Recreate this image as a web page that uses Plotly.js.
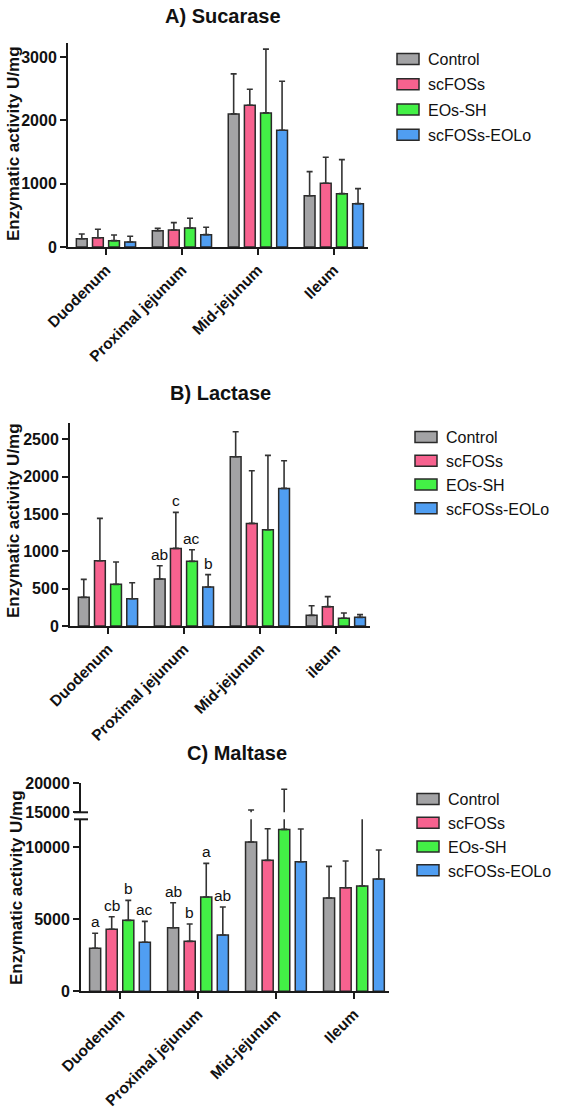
<!DOCTYPE html>
<html><head><meta charset="utf-8">
<script src="https://cdn.plot.ly/plotly-3.0.1.min.js"></script>
<style>
html,body{margin:0;padding:0;background:#fff}
#chart{width:567px;height:1113px}
</style>
</head><body><div id="chart"></div>
<script>
// ---------- data ----------
const segments  = ['Duodenum', 'Proximal jejunum', 'Mid-jejunum', 'Ileum'];
const segmentsB = ['Duodenum', 'Proximal jejunum', 'Mid-jejunum', 'ileum'];
const groups = ['Control', 'scFOSs', 'EOs-SH', 'scFOSs-EOLo'];

// A) Sucarase (mean, SD)
const sucControl    = [131, 258, 2101, 810];
const sucScFOSs     = [147, 268, 2238, 1006];
const sucEOsSH      = [100, 300, 2117, 842];
const sucScFOSsEOLo = [79, 195, 1843, 684];
const sucControlSD    = [74, 37, 632, 380];
const sucScFOSsSD     = [133, 116, 253, 411];
const sucEOsSHSD      = [90, 153, 1006, 537];
const sucScFOSsEOLoSD = [90, 116, 774, 237];

// B) Lactase
const lacControl    = [384, 629, 2268, 143];
const lacScFOSs     = [875, 1040, 1375, 259];
const lacEOsSH      = [558, 866, 1290, 103];
const lacScFOSsEOLo = [366, 522, 1844, 116];
const lacControlSD    = [241, 179, 335, 129];
const lacScFOSsSD     = [567, 482, 705, 134];
const lacEOsSHSD      = [299, 156, 996, 71];
const lacScFOSsEOLoSD = [214, 166, 370, 36];
const lacLetters = [['', 'ab', '', ''], ['', 'c', '', ''], ['', 'ac', '', ''], ['', 'b', '', '']];

// C) Maltase
const malControl    = [2986, 4417, 10368, 6479];
const malScFOSs     = [4306, 3472, 9097, 7194];
const malEOsSH      = [4931, 6549, 11250, 7312];
const malScFOSsEOLo = [3403, 3910, 9000, 7800];
const malControlSD    = [1042, 1736, 5032, 2201];
const malScFOSsSD     = [875, 1202, 2195, 1855];
const malEOsSHSD      = [1388, 2340, 7716, 5200];
const malScFOSsEOLoSD = [1458, 1944, 2271, 2013];
const malLetters = [['a', 'ab', '', ''], ['cb', 'b', '', ''], ['b', 'a', '', ''], ['ac', 'ab', '', '']];

const yTicksA = [0, 1000, 2000, 3000];
const yTicksB = [0, 500, 1000, 1500, 2000, 2500];
const yTicksCLow = [0, 5000, 10000];
const yTicksCHigh = [15000, 20000];

// ---------- style ----------
const W = 567, H = 1113;
const FONT = 'Arial, "Liberation Sans", sans-serif';
const colors = ['#a3a3a5', '#f7628f', '#43f046', '#509ef2'];
const BARGAP = 0.15;
const py = p => 1 - p / H;
const px = p => p / W;

const sucMeans = [sucControl, sucScFOSs, sucEOsSH, sucScFOSsEOLo];
const sucSD = [sucControlSD, sucScFOSsSD, sucEOsSHSD, sucScFOSsEOLoSD];
const lacMeans = [lacControl, lacScFOSs, lacEOsSH, lacScFOSsEOLo];
const lacSD = [lacControlSD, lacScFOSsSD, lacEOsSHSD, lacScFOSsEOLoSD];
const malMeans = [malControl, malScFOSs, malEOsSH, malScFOSsEOLo];
const malSD = [malControlSD, malScFOSsSD, malEOsSHSD, malScFOSsEOLoSD];

function barTrace(cats, y, sd, i, xa, ya, leg, show) {
  return {
    type: 'bar', x: cats, y: y, name: groups[i],
    xaxis: xa, yaxis: ya, legend: leg, showlegend: show,
    legendgroup: leg + i,
    marker: {color: colors[i], line: {color: '#2a2a2a', width: 1.5}},
    error_y: {type: 'data', symmetric: false, array: sd, arrayminus: sd.map(() => 0),
              color: '#333', thickness: 1.6, width: 3},
    hoverinfo: 'x+y+name'
  };
}

const traces = [];
for (let i = 0; i < 4; i++) traces.push(barTrace(segments, sucMeans[i], sucSD[i], i, 'x', 'y', 'legend', true));
for (let i = 0; i < 4; i++) traces.push(barTrace(segmentsB, lacMeans[i], lacSD[i], i, 'x2', 'y2', 'legend2', true));
for (let i = 0; i < 4; i++) traces.push(barTrace(segments, malMeans[i], malSD[i], i, 'x3', 'y3', 'legend3', true));
for (let i = 0; i < 4; i++) traces.push(barTrace(segments, malMeans[i], malSD[i], i, 'x3', 'y4', 'legend3', false));

const lineCol = '#1a1a1a';
const tickFont = {family: FONT, size: 16, color: '#111', weight: 'bold'};
function yAx(domain, anchor, range, tickvals) {
  return {
    domain: domain, anchor: anchor, range: range, tickvals: tickvals, tickformat: 'd',
    showline: true, linecolor: lineCol, linewidth: 2, ticks: 'outside', ticklen: 6,
    tickwidth: 2, tickcolor: lineCol, showgrid: false, zeroline: false,
    tickfont: tickFont, fixedrange: true
  };
}
function xAx(domain, anchor, range) {
  return {
    domain: domain, anchor: anchor, type: 'category', range: range, tickangle: -45,
    showline: true, linecolor: lineCol, linewidth: 2, ticks: 'outside', ticklen: 6,
    tickwidth: 2, tickcolor: lineCol, showgrid: false, zeroline: false,
    tickfont: {family: FONT, size: 15.5, color: '#111', weight: 'bold'}, fixedrange: true
  };
}
const yTitleText = 'Enzymatic activity U/mg';
const yTitleFont = {family: FONT, size: 17, color: '#111', weight: 'bold'};

// x-axis geometry (px)
const xA = [68, 368], xB = [70, 370], xC = [81, 389];
const xRange = [-0.5, 3.45];

const annotations = [];
function panelTitle(text, x, y) {
  annotations.push({text: text, xref: 'paper', yref: 'paper', x: px(x), y: py(y),
    xanchor: 'center', yanchor: 'middle', showarrow: false,
    font: {family: FONT, size: 20, color: '#111', weight: 'bold'}});
}
panelTitle('A) Sucarase', 223, 16);
panelTitle('B) Lactase', 220, 393);
panelTitle('C) Maltase', 237, 753);

function yTitleAt(x, y) {
  annotations.push({text: yTitleText, xref: 'paper', yref: 'paper', x: px(x), y: py(y),
    xanchor: 'center', yanchor: 'middle', textangle: -90, showarrow: false, font: yTitleFont});
}
yTitleAt(13, 144);
yTitleAt(13, 521);
yTitleAt(16, 888);

function letters(cats, means, sds, lets, xa, ya, xpx) {
  const catPx = (xpx[1] - xpx[0]) / (xRange[1] - xRange[0]);
  const slot = catPx * (1 - BARGAP) / 4;
  for (let g = 0; g < 4; g++) for (let c = 0; c < cats.length; c++) {
    if (!lets[g][c]) continue;
    annotations.push({text: lets[g][c], x: cats[c], y: means[g][c] + sds[g][c],
      xref: xa, yref: ya, xshift: (g - 1.5) * slot, yshift: 1,
      xanchor: 'center', yanchor: 'bottom', showarrow: false,
      font: {family: FONT, size: 15.5, color: '#111'}});
  }
}
letters(segmentsB, lacMeans, lacSD, lacLetters, 'x2', 'y2', xB);
letters(segments, malMeans, malSD, malLetters, 'x3', 'y3', xC);

function legendAt(x, y, gap) {
  return {x: px(x), y: py(y), xanchor: 'left', yanchor: 'top', bgcolor: 'rgba(0,0,0,0)',
    font: {family: FONT, size: 16, color: '#111'}, tracegroupgap: gap,
    itemclick: false, itemdoubleclick: false};
}

const layout = {
  width: W, height: H, margin: {l: 0, r: 0, t: 0, b: 0},
  paper_bgcolor: '#fff', plot_bgcolor: 'rgba(0,0,0,0)',
  barmode: 'group', bargap: BARGAP, bargroupgap: 0.33,
  font: {family: FONT, color: '#111'},
  xaxis:  xAx([px(xA[0]), px(xA[1])], 'y', xRange),
  yaxis:  yAx([py(247), py(43)], 'x', [0, 3220], yTicksA),
  xaxis2: xAx([px(xB[0]), px(xB[1])], 'y2', xRange),
  yaxis2: yAx([py(626), py(423)], 'x2', [0, 2720], yTicksB),
  xaxis3: xAx([px(xC[0]), px(xC[1])], 'y3', xRange),
  yaxis3: yAx([py(991.3), py(819.3)], 'x3', [0, 11950], yTicksCLow),
  yaxis4: yAx([py(812.3), py(783.3)], 'x3', [15000, 20000], yTicksCHigh),
  legend:  legendAt(388, 42, 1.5),
  legend2: legendAt(406, 420, 0),
  legend3: legendAt(408, 782, 0),
  annotations: annotations,
  shapes: [
    {type: 'line', xref: 'paper', yref: 'paper', x0: px(74), x1: px(88), y0: py(812.3), y1: py(812.3), line: {color: lineCol, width: 2}},
    {type: 'line', xref: 'paper', yref: 'paper', x0: px(74), x1: px(88), y0: py(819.3), y1: py(819.3), line: {color: lineCol, width: 2}}
  ],
  showlegend: true
};

function widenSwatches() {
  document.querySelectorAll('#chart g.legendpoints path').forEach(p => p.setAttribute('d', 'M11,5.5H-11V-5.5H11Z'));
}
const gd = document.getElementById('chart');
Plotly.newPlot(gd, traces, layout, {displayModeBar: false, staticPlot: true}).then(() => {
  widenSwatches();
  if (gd.on) gd.on('plotly_afterplot', widenSwatches);
  setTimeout(widenSwatches, 0);
});
</script>
</body></html>
